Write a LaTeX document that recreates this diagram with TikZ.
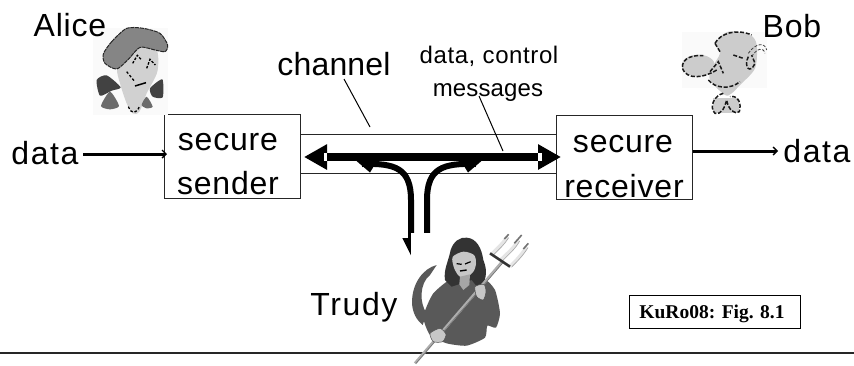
\documentclass[tikz,border=0pt]{standalone}
\usepackage{fontspec}
\usetikzlibrary{arrows.meta}
\setmainfont{Liberation Sans}[LetterSpace=2.5]
\newfontfamily\capfont{Liberation Serif}
\newfontfamily\widefont{Liberation Sans}[LetterSpace=5]
\newfontfamily\plainfont{Liberation Sans}[LetterSpace=0.5]
\definecolor{hairA}{gray}{0.52}
\definecolor{skinA}{gray}{0.82}
\definecolor{bowA}{gray}{0.26}
\definecolor{tuftA}{gray}{0.42}
\definecolor{skinB}{gray}{0.80}
\definecolor{hairT}{gray}{0.2}
\definecolor{bodyT}{gray}{0.35}
\definecolor{skinT}{gray}{0.78}
\definecolor{staffT}{gray}{0.68}
\tikzset{
  big/.style={font=\fontsize{32}{36}\selectfont,anchor=base,inner sep=0pt,text=black},
  small/.style={font=\fontsize{24}{28}\selectfont,anchor=base,inner sep=0pt,text=black},
  boxed/.style={draw=black!85,line width=1.4pt,fill=white,inner sep=0pt,anchor=north west},
  thin line/.style={draw=black,line width=1pt},
  data line/.style={draw=black,line width=3pt,-{Straight Barb[length=4pt,width=8pt,line width=1.4pt]}},
  main line/.style={draw=black,line width=8pt,{Triangle[length=23pt,width=24pt]}-{Triangle[length=23pt,width=24pt]}},
  tap down/.style={draw=black,line width=6pt,-{Triangle[length=18pt,width=16pt]}},
  tap plain/.style={draw=black,line width=6pt},
  bobline/.style={draw=black!90,line width=1.5pt,dash pattern=on 4pt off 1.8pt},
}
\begin{document}
\begin{tikzpicture}[x=1pt,y=-1pt]
\useasboundingbox (0,0) rectangle (854,365);
\fill[white] (0,0) rectangle (854,365);

% boxes
\node[boxed,minimum width=257pt,minimum height=39pt] (channelbox) at (299,134) {};
\node[boxed,minimum width=136pt,minimum height=84pt] (sender) at (164,114) {};
\node[boxed,minimum width=136pt,minimum height=84pt] (receiver) at (556,115) {};

% bottom rule
\coordinate (ruleL) at (0,353);
\coordinate (ruleR) at (854,353);
\draw[black!85,line width=1.4pt] (ruleL) -- (ruleR);

% data arrows
\coordinate (dL0) at (83,154);
\coordinate (dL1) at (167,154);
\coordinate (dR0) at (693,151);
\coordinate (dR1) at (778,151);
\draw[data line] (dL0) -- (dL1);
\draw[data line] (dR0) -- (dR1);

% leader lines
\coordinate (c0) at (344,79);
\coordinate (c1) at (370,127);
\coordinate (m0) at (479,96);
\coordinate (m1) at (503,151);
\draw[thin line] (c0) -- (c1);
\draw[thin line] (m0) -- (m1);

% tapping arrows
\coordinate (tapLend) at (362,164);
\coordinate (tapLbot) at (411,256);
\coordinate (tapRstart) at (427,240);
\coordinate (tapRend) at (476,164);
\draw[tap down] (tapLend) .. controls (395,163) and (411,168) .. (411,200) -- (tapLbot);
\draw[tap plain] (tapRstart) -- (427,200) .. controls (427,168) and (443,163) .. (tapRend);
\fill[black] (353,158) -- (370,172.5) -- (374,166) -- (374,156) -- cycle;
\fill[black] (485,158) -- (468,172.5) -- (464,166) -- (464,156) -- cycle;

% main arrow
\coordinate (mainL) at (304,157);
\coordinate (mainR) at (561,157);
\draw[main line] (mainL) -- (mainR);
\fill[white] (323.5,153) rectangle (327,161);
\fill[white] (538,153) rectangle (541.5,161);

% white ground of Trudy's picture
\fill[white] (411,233) rectangle (445,262);

% Alice
\begin{scope}[scale=1/3]
 \fill[black!2] (280,85) rectangle (505,345);
 \fill[skinA] plot[smooth cycle,tension=.5] coordinates {(352,205) (385,170) (425,140) (470,150) (472,215) (440,280) (418,335) (398,340) (380,310) (360,250)};
 \fill[hairA,draw=black!85,line width=1pt,dash pattern=on 4pt off .8pt] plot[smooth cycle,tension=.45] coordinates {(310,162) (335,125) (380,85) (430,85) (480,100) (503,135) (495,155) (465,150) (420,142) (385,178) (350,207) (315,190)};
 \fill[bowA] plot[smooth cycle,tension=.4] coordinates {(290,240) (320,226) (362,262) (335,272) (300,287)};
 \fill[bowA] plot[smooth cycle,tension=.4] coordinates {(450,265) (487,238) (488,292) (458,290)};
 \fill[tuftA] plot[smooth cycle,tension=.4] coordinates {(303,318) (330,275) (357,318) (330,328)};
 \fill[tuftA] plot[smooth cycle,tension=.4] coordinates {(425,315) (440,290) (458,320) (440,325)};
 \draw[black,line width=1.3pt,dash pattern=on 2.5pt off 1.5pt] (398,190) -- (412,166) -- (425,180);
 \draw[black,line width=1.3pt,dash pattern=on 2.5pt off 1.5pt] (440,205) -- (450,178) -- (466,195);
 \draw[black,line width=1.3pt,dash pattern=on 2.5pt off 2pt] (380,215) -- (402,242);
 \draw[black,line width=1.5pt] (405,258) -- (438,248);
 \draw[black,line width=1.3pt,dash pattern=on 2.5pt off 2pt] (385,320) .. controls (395,345) and (410,340) .. (418,320);
\end{scope}

% Bob
\begin{scope}[shift={(640,0)},scale=1/3]
 \fill[black!2] (125,95) rectangle (382,265);
 \fill[skinB] plot[smooth cycle,tension=.5] coordinates {(225,130) (265,95) (330,105) (350,135) (345,205) (300,255) (275,280) (255,285) (210,240) (215,205) (240,160)};
 \fill[skinB] (175,197) ellipse [x radius=50,y radius=33];
 \draw[bobline] (230,210) .. controls (190,235) and (140,240) .. (127,205) .. controls (125,170) and (165,165) .. (190,167);
 \draw[bobline] (225,130) .. controls (240,100) and (290,85) .. (335,105);
 \draw[bobline] (205,240) .. controls (225,265) and (270,270) .. (300,245);
 \draw[bobline] (225,130) -- (240,155);
 \draw[bobline] (210,215) -- (235,185) -- (250,220);
 \draw[bobline] (280,165) -- (310,175);
 \draw[bobline] (325,170) .. controls (310,200) and (330,225) .. (345,190) -- (335,165);
 \draw[black!75,line width=.8pt,dash pattern=on 3pt off 1.5pt] (325,160) .. controls (345,130) and (375,125) .. (380,150);
 \draw[black!75,line width=.8pt,dash pattern=on 3pt off 1.5pt] (335,170) .. controls (350,145) and (370,140) .. (375,160);
 \fill[skinB] (218,295) rectangle (298,340);
 \draw[bobline] (250,280) .. controls (225,285) and (205,320) .. (225,340) .. controls (245,345) and (255,320) .. (260,300) .. controls (265,330) and (285,345) .. (298,335) .. controls (305,310) and (295,285) .. (270,290);
\end{scope}

% Trudy
\begin{scope}[shift={(410,225)},scale=1/3]
 % tail
 \fill[bodyT] (80,120) .. controls (40,130) and (5,175) .. (6,235) .. controls (8,265) and (20,285) .. (38,300) -- (50,265) .. controls (28,235) and (28,175) .. (60,150) -- cycle;
 % body
 \fill[bodyT] plot[smooth cycle,tension=.35] coordinates {(135,155) (70,205) (40,275) (60,330) (110,355) (170,362) (225,338) (232,302) (258,308) (270,265) (255,195) (220,160)};
 % hair
 \fill[hairT] (122,75) .. controls (130,50) and (150,35) .. (170,38) .. controls (200,40) and (215,70) .. (220,105) .. controls (235,140) and (228,175) .. (205,190) -- (185,165) -- (125,185) -- (105,165) .. controls (100,135) and (115,110) .. (122,75) -- cycle;
 % face and neck
 \fill[skinT] plot[smooth cycle,tension=.5] coordinates {(128,96) (160,80) (192,90) (198,115) (190,140) (165,160) (146,152) (132,128)};
 \fill[skinT!70!bodyT] (150,155) -- (180,148) -- (178,180) -- (160,195) -- (148,178) -- cycle;
 \draw[black,line width=1.2pt] (140,116) -- (155,118) (165,117) -- (182,110);
 \draw[black,line width=1.4pt] (150,138) -- (170,135);
 % staff
 \coordinate (stf0) at (15,415);
 \coordinate (stf1) at (275,112);
 \draw[staffT,line width=2.8pt] (stf0) -- (stf1);
 \draw[black!55,line width=.6pt] (18,415) -- (278,114);
 % hands
 \fill[skinT,draw=black!70,line width=.5pt] plot[smooth cycle,tension=.4] coordinates {(195,185) (222,178) (228,200) (220,225) (200,215)};
 \fill[skinT,draw=black!70,line width=.5pt] plot[smooth cycle,tension=.4] coordinates {(60,325) (90,310) (108,328) (98,350) (70,350)};
 % trident
 \draw[black!10,line width=3.5pt] (245,88) .. controls (262,70) and (280,55) .. (292,35);
 \draw[black!10,line width=3.5pt] (272,105) .. controls (292,85) and (312,70) .. (325,45);
 \draw[black!10,line width=3.5pt] (300,125) .. controls (320,105) and (335,90) .. (350,65);
 \draw[black!35,line width=.6pt] (250,90) .. controls (268,72) and (284,58) .. (296,38);
 \draw[black!35,line width=.6pt] (278,107) .. controls (296,88) and (316,72) .. (329,48);
 \draw[black!35,line width=.6pt] (306,125) .. controls (324,107) and (340,90) .. (354,68);
 \draw[black!55,line width=1.6pt] (283,42) -- (296,28) (313,55) -- (335,30) (340,72) -- (355,55);
 \draw[black!80,line width=2.6pt] (240,85) -- (300,125);
\end{scope}

% box texts
\node[big] (s1) at (228,150) {secure};
\node[big] (s2) at (228,194) {sender};
\node[big] (r1) at (623,152) {secure};
\node[big] (r2) at (624,197) {receiver};

% labels
\node[big] (alice) at (70,36) {Alice};
\node[big] (bob) at (792,37) {Bob};
\node[big] (channel) at (334,75) {\plainfont channel};
\node[small] (dc) at (489,63) {data, control};
\node[small] (msg) at (488,96) {\plainfont messages};
\node[big] (trudy) at (354,315) {\widefont Trudy};
\node[big] (dataL) at (45,164) {\widefont data};
\node[big] (dataR) at (817,162) {\widefont data};

% KuRo box
\node[draw=black,line width=1.3pt,minimum width=171pt,minimum height=33pt,inner sep=0pt,anchor=north west] (kuro) at (629,295) {};
\node[anchor=base,inner sep=0pt] (kurotext) at (712,318) {\capfont\bfseries\fontsize{19.5}{24}\selectfont KuRo08: Fig. 8.1};
\end{tikzpicture}
\end{document}
